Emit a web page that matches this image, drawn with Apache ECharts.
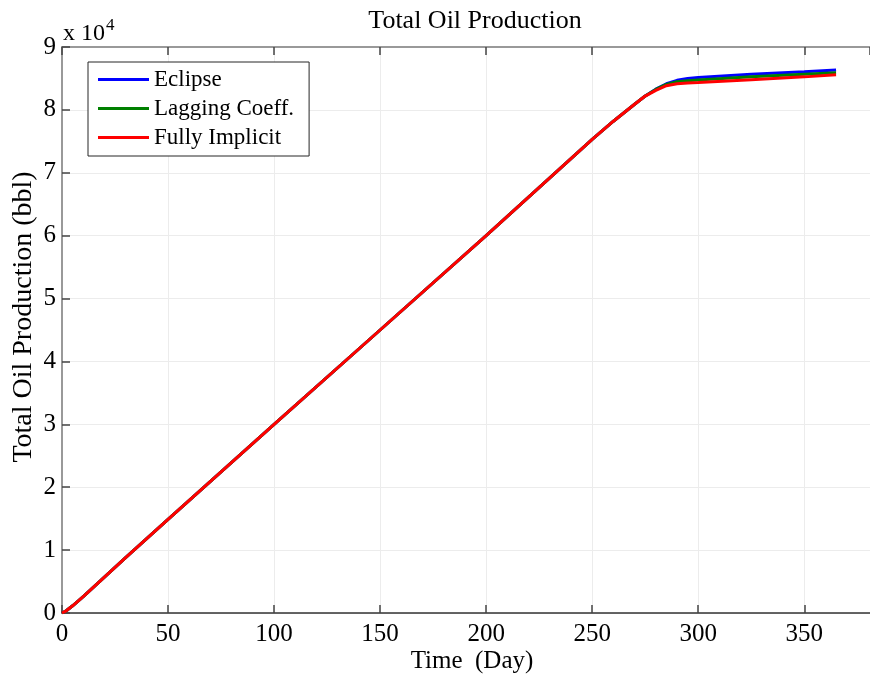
<!DOCTYPE html>
<html>
<head>
<meta charset="utf-8">
<script src="https://cdn.jsdelivr.net/npm/echarts@6/dist/echarts.min.js"></script>
<style>
  html, body { margin: 0; padding: 0; background: #fff; }
  #chart { width: 870px; height: 677px; }
</style>
</head>
<body>
<div id="chart"></div>
<script>
// Cumulative oil production (bbl) against time (days)
const sharedDays   = [0, 2, 5, 10, 20, 30, 50, 100, 150, 200, 250, 260, 270, 275];
const sharedValues = [0, 350, 1150, 2600, 5700, 8800, 14900, 30000, 45000, 60000, 75300, 78200, 80900, 82200];

const tailDays = [280, 285, 290, 295, 300, 325, 350, 365];
const eclipseTail  = [83300, 84150, 84700, 84980, 85150, 85650, 86050, 86350];
const laggingTail  = [83250, 84050, 84480, 84650, 84750, 85250, 85680, 85920];
const implicitTail = [83100, 83850, 84150, 84270, 84350, 84800, 85250, 85600];

const seriesNames = ['Eclipse', 'Lagging Coeff.', 'Fully Implicit'];
const seriesColors = ['#0000ff', '#008000', '#ff0000'];
const tails = [eclipseTail, laggingTail, implicitTail];

const xTicks = [0, 50, 100, 150, 200, 250, 300, 350];
const yTickLabels = ['0', '1', '2', '3', '4', '5', '6', '7', '8', '9'];

function pairs(days, values) {
  return days.map((d, i) => [d, values[i]]);
}

const FONT = "'Liberation Serif', 'Times New Roman', serif";

const chart = echarts.init(document.getElementById('chart'), null, { renderer: 'canvas' });

const series = seriesNames.map((name, k) => ({
  name: name,
  type: 'line',
  showSymbol: false,
  symbol: 'none',
  xAxisIndex: 0,
  yAxisIndex: 0,
  data: pairs(sharedDays, sharedValues).concat(pairs(tailDays, tails[k])),
  lineStyle: { color: seriesColors[k], width: 3 },
  itemStyle: { color: seriesColors[k] },
  z: 2 + k
}));

chart.setOption({
  animation: false,
  backgroundColor: '#ffffff',
  textStyle: { fontFamily: FONT, color: '#000' },
  title: {
    text: 'Total Oil Production',
    left: 470,
    textAlign: 'center',
    top: 3,
    textStyle: { fontFamily: FONT, fontSize: 26, fontWeight: 'normal', color: '#000' }
  },
  legend: {
    orient: 'vertical',
    left: 88,
    top: 62,
    padding: [6, 15, 7, 10],
    itemGap: 6,
    itemWidth: 51,
    itemHeight: 3,
    icon: 'rect',
    backgroundColor: '#ffffff',
    borderColor: '#262626',
    borderWidth: 1,
    borderRadius: 0,
    textStyle: { fontFamily: FONT, fontSize: 23, color: '#000' },
    data: seriesNames
  },
  grid: { left: 62, top: 47, right: 0, bottom: 64, containLabel: false, outerBoundsMode: 'none' },
  xAxis: [{
    type: 'value',
    min: 0,
    max: 381,
    interval: 50,
    position: 'bottom',
    name: 'Time  (Day)',
    nameLocation: 'middle',
    nameGap: 36,
    nameMoveOverlap: false,
    nameTextStyle: { fontFamily: FONT, fontSize: 25, color: '#000', padding: [0, 0, 0, 12] },
    axisLine: { show: true, lineStyle: { color: '#333', width: 1.5 } },
    axisTick: { show: true, inside: true, length: 8, lineStyle: { color: '#444', width: 1.5 } },
    axisLabel: {
      showMaxLabel: false,
      margin: 9,
      fontFamily: FONT, fontSize: 25, color: '#000',
      formatter: v => (xTicks.indexOf(v) >= 0 ? String(v) : '')
    },
    splitLine: { show: true, lineStyle: { color: '#ececec', width: 1 } }
  }, {
    type: 'value',
    min: 0,
    max: 381,
    interval: 50,
    position: 'top',
    axisLine: { show: true, lineStyle: { color: '#999', width: 2 } },
    axisTick: { show: true, inside: true, length: 8, lineStyle: { color: '#444', width: 1.5 } },
    axisLabel: { show: false },
    splitLine: { show: false }
  }],
  yAxis: {
    type: 'value',
    min: 0,
    max: 90000,
    interval: 10000,
    name: 'Total Oil Production (bbl)',
    nameLocation: 'middle',
    nameGap: 24,
    nameMoveOverlap: false,
    nameTextStyle: { fontFamily: FONT, fontSize: 28, color: '#000', padding: [0, 0, 0, 26] },
    axisLine: { show: true, lineStyle: { color: '#999', width: 2 } },
    axisTick: { show: true, inside: true, length: 8, lineStyle: { color: '#444', width: 1.5 } },
    axisLabel: {
      margin: 6,
      fontFamily: FONT, fontSize: 25, color: '#000',
      formatter: v => yTickLabels[Math.round(v / 10000)]
    },
    splitLine: { show: true, lineStyle: { color: '#ececec', width: 1 } }
  },
  graphic: [{
    type: 'text',
    left: 63,
    top: 17,
    style: {
      text: '{b|x 10}{s|4}',
      rich: {
        b: { fontFamily: FONT, fontSize: 24, fill: '#000', verticalAlign: 'bottom' },
        s: { fontFamily: FONT, fontSize: 17, fill: '#000', verticalAlign: 'top', padding: [0, 0, 12, 1] }
      }
    }
  }],
  series: series
});
</script>
</body>
</html>
